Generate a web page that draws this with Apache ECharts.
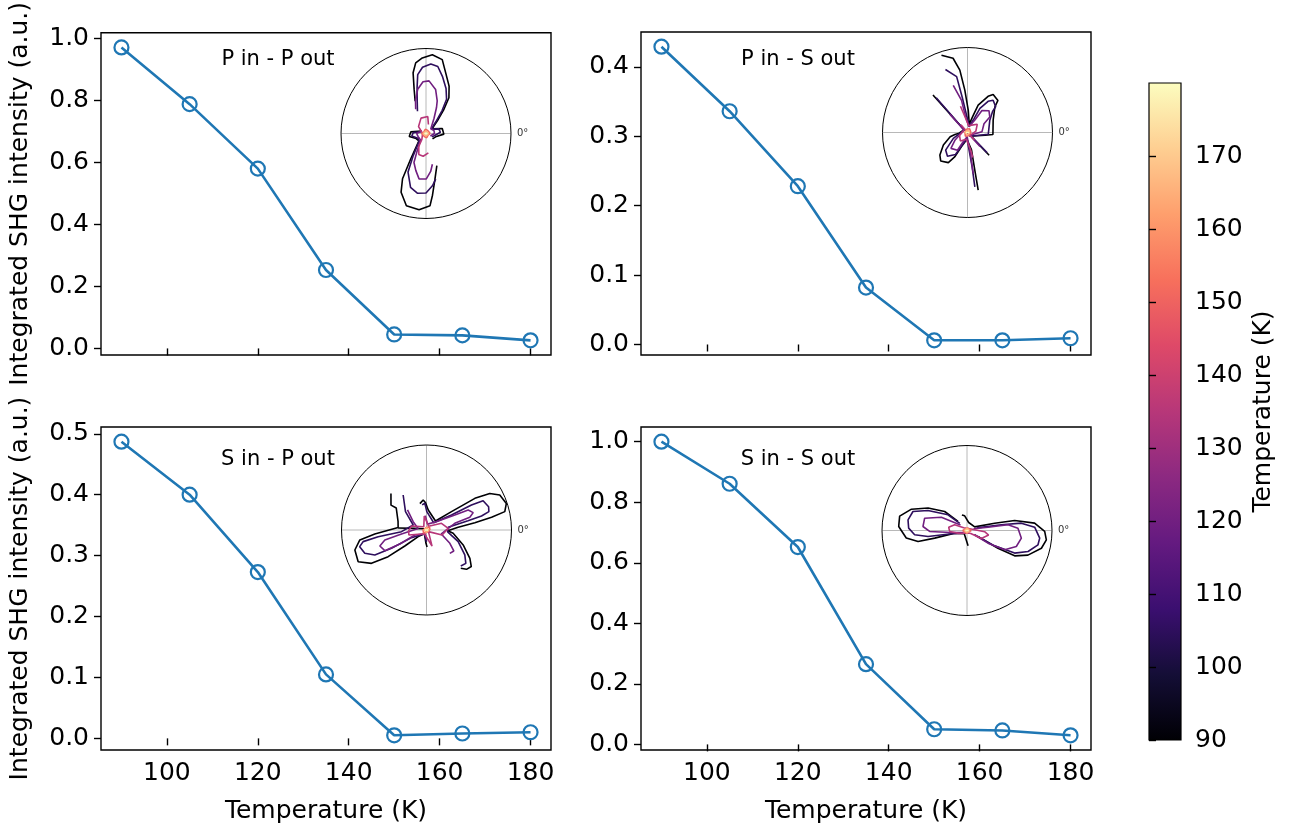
<!DOCTYPE html>
<html><head><meta charset="utf-8">
<script src="https://cdn.jsdelivr.net/npm/echarts@6/dist/echarts.min.js"></script>
<style>html,body{margin:0;padding:0;background:#fff}#c{width:1297px;height:834px}</style>
</head><body><div id="c"></div>
<script>
// ---------------- data ----------------
const temps = [90, 105, 120, 135, 150, 165, 180];
const ppVals = [0.971, 0.788, 0.580, 0.253, 0.045, 0.042, 0.026];
const psVals = [0.429, 0.336, 0.228, 0.082, 0.006, 0.006, 0.009];
const spVals = [0.487, 0.400, 0.273, 0.105, 0.005, 0.008, 0.010];
const ssVals = [1.000, 0.861, 0.652, 0.265, 0.050, 0.046, 0.030];
const xTicks = [100, 120, 140, 160, 180];
const ppTicks = [0, 0.2, 0.4, 0.6, 0.8, 1.0];
const psTicks = [0, 0.1, 0.2, 0.3, 0.4];
const spTicks = [0, 0.1, 0.2, 0.3, 0.4, 0.5];
const ssTicks = [0, 0.2, 0.4, 0.6, 0.8, 1.0];
const cbarTicks = [90, 100, 110, 120, 130, 140, 150, 160, 170];
const panelTitles = ['P in - P out', 'P in - S out', 'S in - P out', 'S in - S out'];
const curveTemps = [90, 105, 120, 135, 150, 165, 180];

// polar inset curves: segments of [radius (normalised), angle in degrees]
const pp090 = [
  [[0.10,320],[0.12,341],[0.21,358],[0.20,17],[0.09,38],[0.20,48],[0.355,53.5],[0.50,57.4],[0.62,64],[0.75,72],[0.89,77.6],[0.93,85.4],[0.89,92.8],[0.84,98.3],[0.73,102],[0.54,105],[0.40,108.6]],
  [[0.06,150],[0.18,174],[0.20,190],[0.13,207],[0.12,226],[0.35,239],[0.60,242.6],[0.75,247],[0.88,254.8],[0.90,264.8],[0.85,273.2],[0.73,276],[0.55,281],[0.40,288.6]]
];
const pp105 = [
  [[0.08,330],[0.10,345],[0.17,5],[0.16,20],[0.08,40],[0.18,50],[0.33,55],[0.47,59],[0.58,66],[0.70,74],[0.80,80],[0.82,86],[0.78,93],[0.70,98],[0.55,101],[0.40,105],[0.28,111]],
  [[0.06,160],[0.15,176],[0.17,190],[0.11,210],[0.12,228],[0.30,240],[0.50,245],[0.66,254],[0.71,262],[0.70,270],[0.62,277],[0.55,282]]
];
const pp120 = [
  [[0.06,330],[0.10,0],[0.10,20],[0.08,45],[0.20,62],[0.33,68],[0.405,71],[0.53,77.7],[0.62,86.7],[0.61,93.3],[0.53,100.6],[0.40,108],[0.31,113]],
  [[0.06,150],[0.11,180],[0.10,200],[0.10,230],[0.25,244],[0.37,247.5],[0.45,254.5],[0.54,261.3],[0.535,270.4],[0.45,277],[0.37,281.7]]
];
const pp135 = [[[0.11,75],[0.20,84],[0.19,108],[0.12,137],[0.04,180],[0.085,235],[0.175,241],[0.26,251],[0.27,263],[0.23,277]]];
const pp150 = [[[0.05,0],[0.04,60],[0.05,100],[0.03,150],[0.05,180],[0.04,240],[0.05,280],[0.03,330],[0.05,360]]];
const pp165 = [[[0.035,0],[0.03,90],[0.035,180],[0.03,270],[0.035,360]]];
const pp180 = [[[0.02,0],[0.02,90],[0.02,180],[0.02,270],[0.02,360]]];

const ps090 = [
  [[0.05,300],[0.21,351],[0.30,355.5],[0.335,25.7],[0.44,43],[0.52,46.5],[0.54,56],[0.49,60.4],[0.345,68.7],[0.20,72],[0.10,78],[0.26,88],[0.50,93.6],[0.74,97],[0.89,101],[0.96,108.6]],
  [[0.60,132.6],[0.30,133.5],[0.05,140],[0.10,185],[0.15,189],[0.21,194],[0.32,207.5],[0.42,219.3],[0.46,226.7],[0.42,237.5],[0.32,242.5],[0.18,247],[0.08,265],[0.21,283],[0.45,281],[0.69,280.5]],
  [[0.02,133],[0.37,313.5]]
];
const ps105 = [
  [[0.05,300],[0.245,355],[0.30,29],[0.385,40],[0.45,42.5],[0.485,51.6],[0.44,56.6],[0.32,62.8],[0.18,64.5],[0.08,75],[0.20,93],[0.42,98.5],[0.67,101],[0.785,109.3]],
  [[0.55,132],[0.28,133],[0.05,145],[0.10,190],[0.18,202.7],[0.33,218.8],[0.365,229.8],[0.295,241.4],[0.175,246],[0.07,265],[0.41,277.7],[0.645,277.7]],
  [[0.02,133],[0.33,314]]
];
const ps120 = [
  [[0.04,300],[0.17,2.6],[0.22,28],[0.32,35],[0.36,45.4],[0.31,56.7],[0.17,59.3],[0.07,75],[0.185,97],[0.385,100.5],[0.58,106.8]],
  [[0.30,134],[0.05,145],[0.17,211],[0.27,223.8],[0.24,240.5],[0.12,245],[0.05,265],[0.25,278],[0.49,277.9]],
  [[0.02,134],[0.22,312]]
];
const ps135 = [
  [[0.05,330],[0.10,10],[0.15,40],[0.10,60],[0.08,80],[0.20,100],[0.32,105]],
  [[0.05,150],[0.10,200],[0.13,230],[0.08,260],[0.20,280],[0.30,282]],
  [[0.12,130],[0.12,312]]
];
const ps150 = [[[0.04,0],[0.05,60],[0.04,110],[0.03,180],[0.05,240],[0.04,290],[0.04,360]]];
const ps165 = [[[0.03,0],[0.03,90],[0.03,180],[0.03,270],[0.03,360]]];
const ps180 = [[[0.02,0],[0.02,90],[0.02,180],[0.02,270],[0.02,360]]];

const sp090 = [
  [[0.605,311.8],[0.66,315.5],[0.68,320.8],[0.61,326.8],[0.466,337.8],[0.316,352.9],[0.25,358],[0.374,4.8],[0.575,8.6],[0.78,11],[0.946,13.2],[0.99,18.4],[0.955,25.5],[0.86,30],[0.68,33.2],[0.365,36.3],[0.15,45],[0.236,85],[0.32,92],[0.355,96.3],[0.32,104]],
  [[0.60,134.2],[0.51,145],[0.44,144],[0.35,163],[0.335,175],[0.61,184.4],[0.793,188.5],[0.875,195.6],[0.886,204.9],[0.757,211.2],[0.55,214.8],[0.317,216.4],[0.125,218.7],[0.05,240],[0.16,268],[0.20,272]],
  [[0.335,176],[0.139,172],[0.03,150]]
];
const sp105 = [
  [[0.585,313.6],[0.607,319.7],[0.538,326.9],[0.397,339.8],[0.25,355],[0.257,7],[0.50,12.6],[0.668,14.3],[0.765,16.4],[0.78,20.5],[0.75,27.4],[0.605,29],[0.343,31],[0.12,45],[0.216,89],[0.315,93.6],[0.30,99.8]],
  [[0.495,123.7],[0.328,138.9],[0.167,159.4],[0.295,183.8],[0.574,187.9],[0.758,190.4],[0.81,194],[0.776,200.7],[0.675,205.8],[0.465,207.6],[0.198,207],[0.05,240],[0.14,270]]
];
const sp120 = [
  [[0.388,315],[0.405,322.5],[0.316,330.3],[0.18,345],[0.342,13.2],[0.531,16.3],[0.586,20.4],[0.544,25.6],[0.377,27.9],[0.15,40],[0.07,80],[0.17,95]],
  [[0.325,133.5],[0.185,148],[0.10,170],[0.298,189],[0.504,193.5],[0.58,198.9],[0.547,206.4],[0.354,207.7],[0.149,203],[0.05,250],[0.12,275]]
];
const sp135 = [[[0.03,320],[0.193,342],[0.256,4],[0.193,24],[0.05,60],[0.167,99],[0.05,130],[0.18,165],[0.21,182],[0.216,196],[0.05,240],[0.20,289],[0.03,320]]];
const sp150 = [[[0.04,0],[0.05,45],[0.03,100],[0.04,180],[0.05,225],[0.03,280],[0.04,360]]];
const sp165 = [[[0.03,0],[0.03,90],[0.03,180],[0.03,270],[0.03,360]]];
const sp180 = [[[0.02,0],[0.02,90],[0.02,180],[0.02,270],[0.02,360]]];

const ss090 = [
  [[0.147,331],[0.42,330],[0.635,332],[0.773,338],[0.90,346.6],[0.94,353.3],[0.914,359.3],[0.80,6.2],[0.573,11.8],[0.337,14.8],[0.10,25],[0.096,78],[0.175,99],[0.193,108]],
  [[0.15,135],[0.345,139.6],[0.529,150],[0.70,159],[0.81,168],[0.805,176.6],[0.72,187],[0.59,192.7],[0.39,193.3],[0.148,192],[0.05,230],[0.18,274]]
];
const ss105 = [
  [[0.10,331],[0.372,331],[0.62,334.6],[0.76,341],[0.852,348.6],[0.86,354],[0.797,2.8],[0.645,7.7],[0.41,9.4],[0.12,15]],
  [[0.12,135],[0.29,140.5],[0.516,152.9],[0.674,160.6],[0.705,169.8],[0.687,177.7],[0.618,184.7],[0.464,188.7],[0.188,192],[0.05,220]]
];
const ss120 = [
  [[0.10,330],[0.288,328.9],[0.498,332.8],[0.61,342],[0.646,352],[0.60,2.6],[0.487,7.9],[0.25,9],[0.08,15]],
  [[0.10,140],[0.34,152.6],[0.519,163.8],[0.52,174.8],[0.44,181.5],[0.186,187.3],[0.05,210]]
];
const ss135 = [[[0.05,320],[0.193,331],[0.26,348],[0.208,356],[0.05,20],[0.05,140],[0.16,155],[0.219,170],[0.204,183],[0.10,200],[0.03,260],[0.05,320]]];
const ss150 = [[[0.05,0],[0.03,80],[0.05,180],[0.03,260],[0.05,360]]];
const ss165 = [[[0.03,0],[0.03,90],[0.03,180],[0.03,270],[0.03,360]]];
const ss180 = [[[0.02,0],[0.02,90],[0.02,180],[0.02,270],[0.02,360]]];

// ---------------- styling / layout ----------------
const FONT = 'DejaVu Sans';
const FS = 25;
const magmaStops = ['#000004','#140e36','#3b0f70','#641a80','#8c2981','#b73779','#de4968','#f7705c','#fe9f6d','#fecf92','#fcfdbf'];
function hex2rgb(h){return [parseInt(h.slice(1,3),16),parseInt(h.slice(3,5),16),parseInt(h.slice(5,7),16)];}
function magma(t){
  t = Math.max(0, Math.min(1, t));
  const p = t * (magmaStops.length - 1), i = Math.min(Math.floor(p), magmaStops.length - 2), f = p - i;
  const a = hex2rgb(magmaStops[i]), b = hex2rgb(magmaStops[i+1]);
  const c = a.map((v, k) => Math.round(v + (b[k] - v) * f));
  return 'rgb(' + c.join(',') + ')';
}
const tMin = 90, tMax = 180;

const panels = [
  {vals: ppVals, ticks: ppTicks, grid: {left: 101, top: 32}, polarC: [426, 133.5], title: [278, 60], curves: [pp090, pp105, pp120, pp135, pp150, pp165, pp180], xlab: false, ylab: true},
  {vals: psVals, ticks: psTicks, grid: {left: 641, top: 32}, polarC: [967.5, 132.5], title: [798, 60], curves: [ps090, ps105, ps120, ps135, ps150, ps165, ps180], xlab: false, ylab: false},
  {vals: spVals, ticks: spTicks, grid: {left: 101, top: 427}, polarC: [426.5, 530], title: [278, 460], curves: [sp090, sp105, sp120, sp135, sp150, sp165, sp180], xlab: true, ylab: true},
  {vals: ssVals, ticks: ssTicks, grid: {left: 641, top: 427}, polarC: [967, 530.5], title: [798, 460], curves: [ss090, ss105, ss120, ss135, ss150, ss165, ss180], xlab: true, ylab: false}
];
const GW = 450, GH = 323;

function pad(arr){const lo = Math.min(...arr), hi = Math.max(...arr), r = hi - lo; return [lo - 0.05 * r, hi + 0.05 * r];}
const xr = pad(temps);

const grids = [], xAxes = [], yAxes = [], series = [], polars = [], angleAxes = [], radiusAxes = [], graphics = [];
const tickStyle = {show: true, length: 7, inside: false, lineStyle: {color: '#000', width: 1.4}};
const lblStyle = {color: '#000', fontFamily: FONT, fontSize: FS};

panels.forEach((p, i) => {
  grids.push({left: p.grid.left, top: p.grid.top, width: GW, height: GH, show: true, borderColor: '#000', borderWidth: 1.4, backgroundColor: 'transparent', containLabel: false});
  xAxes.push({
    gridIndex: i, type: 'value', min: xr[0], max: xr[1],
    axisLine: {show: false}, splitLine: {show: false},
    axisTick: Object.assign({customValues: xTicks}, tickStyle),
    axisLabel: Object.assign({show: p.xlab, customValues: xTicks, margin: 11}, lblStyle),
    name: p.xlab ? 'Temperature (K)' : '', nameLocation: 'middle', nameGap: 49,
    nameTextStyle: {color: '#000', fontFamily: FONT, fontSize: FS}
  });
  const yr = pad(p.vals);
  yAxes.push({
    gridIndex: i, type: 'value', min: yr[0], max: yr[1],
    axisLine: {show: false}, splitLine: {show: false},
    axisTick: Object.assign({customValues: p.ticks}, tickStyle),
    axisLabel: Object.assign({customValues: p.ticks, margin: 12, formatter: v => v.toFixed(1)}, lblStyle),
    name: p.ylab ? 'Integrated SHG intensity (a.u.)' : '', nameLocation: 'middle', nameGap: 68, nameRotate: 90,
    nameTextStyle: {color: '#000', fontFamily: FONT, fontSize: FS}
  });
  series.push({
    type: 'line', xAxisIndex: i, yAxisIndex: i,
    data: temps.map((t, k) => [t, p.vals[k]]),
    symbol: 'circle', symbolSize: 14, showSymbol: true,
    lineStyle: {color: '#1f77b4', width: 2.6},
    itemStyle: {color: 'rgba(0,0,0,0)', borderColor: '#1f77b4', borderWidth: 2.2},
    z: 3, silent: true
  });
  // polar inset
  polars.push({center: p.polarC, radius: 85});
  angleAxes.push({
    polarIndex: i, type: 'value', min: 0, max: 360, interval: 90, startAngle: 0, clockwise: false,
    axisLine: {show: true, lineStyle: {color: '#000', width: 1}},
    axisTick: {show: false},
    splitLine: {show: true, lineStyle: {color: '#b8b8b8', width: 1}},
    axisLabel: {show: true, margin: 6, formatter: v => (v === 0 ? '0°' : ''), fontFamily: FONT, fontSize: 10, color: '#333'}
  });
  radiusAxes.push({polarIndex: i, type: 'value', min: 0, max: 1, show: false});
  p.curves.forEach((segs, k) => {
    const col = magma((curveTemps[k] - tMin) / (tMax - tMin));
    segs.forEach(seg => {
      series.push({
        type: 'line', coordinateSystem: 'polar', polarIndex: i,
        data: seg, showSymbol: false, symbol: 'none', smooth: false,
        lineStyle: {color: col, width: 1.6}, z: 5, silent: true
      });
    });
  });
  graphics.push({
    type: 'text', x: p.title[0], y: p.title[1], z: 20,
    style: {text: panelTitles[i], fill: '#000', font: '21px "' + FONT + '"', textAlign: 'center', textVerticalAlign: 'middle'}
  });
});

// colorbar
const cbStops = magmaStops.map((c, k) => ({offset: k / (magmaStops.length - 1), color: c}));
grids.push({left: 1149, top: 83, width: 32, height: 657, show: true, borderColor: '#000', borderWidth: 1.2,
  backgroundColor: new echarts.graphic.LinearGradient(0, 1, 0, 0, cbStops)});
xAxes.push({gridIndex: 4, type: 'value', min: 0, max: 1, show: false});
yAxes.push({
  gridIndex: 4, type: 'value', min: tMin, max: tMax, position: 'right',
  axisLine: {show: false}, splitLine: {show: false},
  axisTick: Object.assign({customValues: cbarTicks}, tickStyle),
  axisLabel: Object.assign({customValues: cbarTicks, margin: 14}, lblStyle),
  name: 'Temperature (K)', nameLocation: 'middle', nameGap: 70, nameRotate: 90,
  nameTextStyle: {color: '#000', fontFamily: FONT, fontSize: FS}
});

const chart = echarts.init(document.getElementById('c'), null, {renderer: 'canvas'});
chart.setOption({
  backgroundColor: '#fff', animation: false,
  textStyle: {fontFamily: FONT},
  grid: grids, xAxis: xAxes, yAxis: yAxes,
  polar: polars, angleAxis: angleAxes, radiusAxis: radiusAxes,
  series: series, graphic: graphics
});
</script></body></html>
